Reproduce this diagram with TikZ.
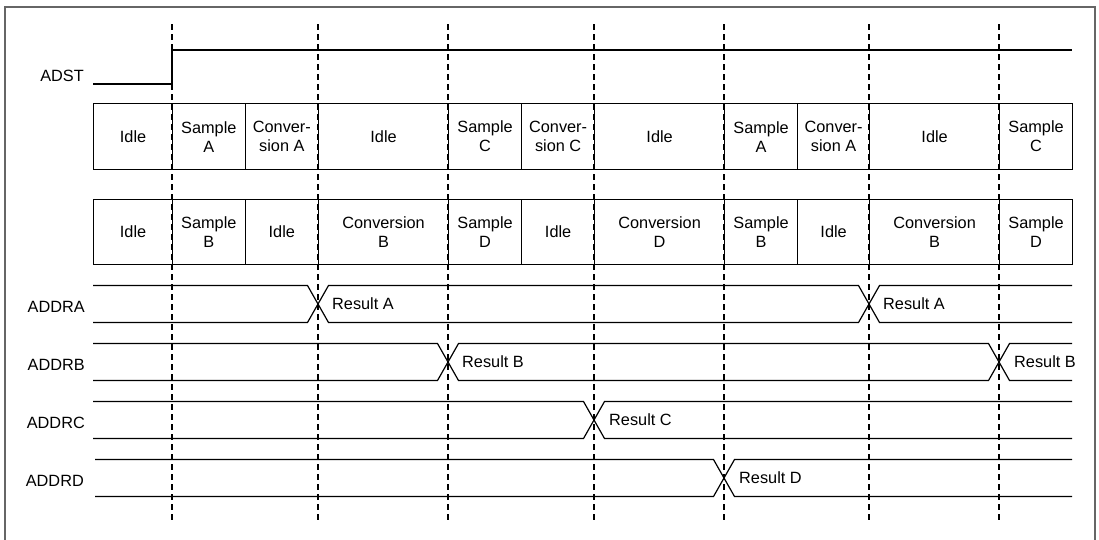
\documentclass[tikz,border=0pt]{standalone}
\usepackage{fontspec}
\setmainfont{Liberation Sans}
\begin{document}
\begin{tikzpicture}[x=1pt,y=-1pt,
  every node/.style={font=\fontsize{16.3}{19}\selectfont},
  cell/.style={draw, line width=1.2pt, inner sep=0pt, align=center, anchor=north west},
  sig/.style={line width=1.2pt, line join=miter},
  guide/.style={dash pattern=on 6pt off 4pt, line width=1.2pt},
  frame/.style={draw=black!60, line width=1.4pt},
  lbl/.style={anchor=east, inner sep=0pt},
  res/.style={anchor=west, inner sep=0pt}]
\useasboundingbox (0,0) rectangle (1099,539);
\draw[frame] (5,7) rectangle (1095,560);

% ADST
\node[lbl] (adst) at (84,75.5) {ADST};
\draw[sig] (93,84) -- (172,84) -- (172,50) -- (1072,50);

% row 1
\foreach \a/\b/\t/\n in {93/172/Idle/ta, 172/244.5/{Sample\\A}/tb, 244.5/318/{Conver-\\sion A}/tc,
  318/448/Idle/td, 448/521/{Sample\\C}/te, 521/594/{Conver-\\sion C}/tf, 594/724/Idle/tg,
  724/797/{Sample\\A}/th, 797/869/{Conver-\\sion A}/ti, 869/999/Idle/tj, 999/1072/{Sample\\C}/tk}
  \node[cell, minimum width={(\b-\a)*1pt}, minimum height=66pt] (\n) at (\a,103) {\t};

% row 2
\foreach \a/\b/\t/\n in {93/172/Idle/ba, 172/244.5/{Sample\\B}/bb, 244.5/318/Idle/bc,
  318/448/{Conversion\\B}/bd, 448/521/{Sample\\D}/be, 521/594/Idle/bf, 594/724/{Conversion\\D}/bg,
  724/797/{Sample\\B}/bh, 797/869/Idle/bi, 869/999/{Conversion\\B}/bj, 999/1072/{Sample\\D}/bk}
  \node[cell, minimum width={(\b-\a)*1pt}, minimum height=65pt] (\n) at (\a,199) {\t};

% ADDRA
\node[lbl] (la) at (85,306.5) {ADDRA};
\draw[sig] (93,285.5) -- (307.5,285.5) -- (328.5,322.5) -- (858.5,322.5) -- (879.5,285.5) -- (1072,285.5);
\draw[sig] (93,322.5) -- (307.5,322.5) -- (328.5,285.5) -- (858.5,285.5) -- (879.5,322.5) -- (1072,322.5);
\node[res] (ra1) at (332,304) {Result A};
\node[res] (ra2) at (883,304) {Result A};

% ADDRB
\node[lbl] (lb) at (85,364.5) {ADDRB};
\draw[sig] (93,343.5) -- (437.5,343.5) -- (458.5,380.5) -- (988.5,380.5) -- (1009.5,343.5) -- (1072,343.5);
\draw[sig] (93,380.5) -- (437.5,380.5) -- (458.5,343.5) -- (988.5,343.5) -- (1009.5,380.5) -- (1072,380.5);
\node[res] (rb1) at (462,362) {Result B};
\node[res] (rb2) at (1014,362) {Result B};

% ADDRC
\node[lbl] (lc) at (85,422.5) {ADDRC};
\draw[sig] (93,401.5) -- (583.5,401.5) -- (604.5,438.5) -- (1072,438.5);
\draw[sig] (93,438.5) -- (583.5,438.5) -- (604.5,401.5) -- (1072,401.5);
\node[res] (rc) at (609,420) {Result C};

% ADDRD
\node[lbl] (ld) at (84,480.5) {ADDRD};
\draw[sig] (95,459.5) -- (713.5,459.5) -- (734.5,496.5) -- (1072,496.5);
\draw[sig] (95,496.5) -- (713.5,496.5) -- (734.5,459.5) -- (1072,459.5);
\node[res] (rd) at (739,478) {Result D};

% guide lines
\foreach \x in {172,318,448,594,724,869,999}
  \draw[guide] (\x,24) -- (\x,523);
\end{tikzpicture}
\end{document}
